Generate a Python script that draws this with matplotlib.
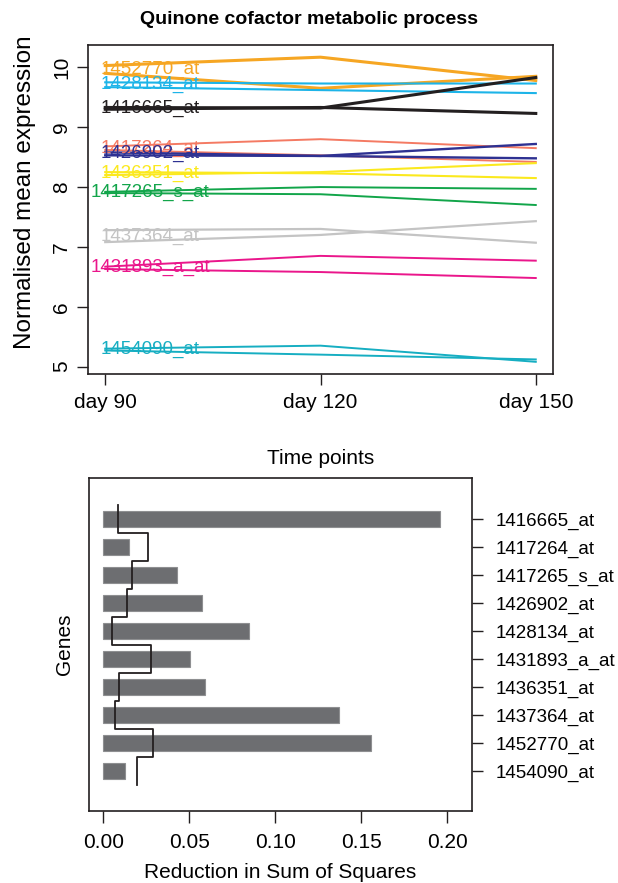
import numpy as np
import matplotlib
matplotlib.use("Agg")
import matplotlib.pyplot as plt

plt.rcParams["font.family"] = ["Liberation Sans", "DejaVu Sans"]

# top panel: two profiles per probe set over the three time points
time_points = ["day 90", "day 120", "day 150"]
probes = ["1452770_at", "1428134_at", "1416665_at", "1417264_at", "1426902_at",
          "1436351_at", "1417265_s_at", "1437364_at", "1431893_a_at", "1454090_at"]
colours = ["#f6a623", "#1db4e8", "#231f20", "#f47a63", "#2e3192",
           "#fbe91e", "#12a54a", "#c4c4c4", "#ea168b", "#16aec2"]
widths = [2.2, 1.5, 2.2, 1.4, 1.7, 1.5, 1.4, 1.6, 1.4, 1.4]
profile_a = [[10.03, 10.17, 9.78], [9.75, 9.73, 9.73], [9.33, 9.32, 9.83],
             [8.68, 8.80, 8.65], [8.58, 8.52, 8.72], [8.20, 8.25, 8.40],
             [7.92, 8.00, 7.97], [7.28, 7.30, 7.07], [6.67, 6.85, 6.77],
             [5.30, 5.35, 5.08]]
profile_b = [[9.90, 9.65, 9.85], [9.67, 9.62, 9.57], [9.30, 9.33, 9.23],
             [8.62, 8.53, 8.42], [8.53, 8.52, 8.48], [8.25, 8.23, 8.15],
             [7.90, 7.88, 7.70], [7.08, 7.20, 7.43], [6.63, 6.58, 6.48],
             [5.27, 5.20, 5.12]]

# bottom panel
genes = ["1416665_at", "1417264_at", "1417265_s_at", "1426902_at", "1428134_at",
         "1431893_a_at", "1436351_at", "1437364_at", "1452770_at", "1454090_at"]
reduction = [0.1957, 0.0151, 0.0427, 0.0576, 0.0849, 0.0502, 0.0593, 0.1369, 0.1556, 0.0126]
null_level = [0.0084, 0.0258, 0.0169, 0.0136, 0.0049, 0.0276, 0.0091, 0.0066, 0.0291, 0.0194]

fig = plt.figure(figsize=(6.18, 8.83), dpi=100)

# ---- top panel
ax = fig.add_axes([88/618, 1-374/883, 465/618, 329/883])
xs = np.arange(len(time_points))
for i in range(len(probes)):
    ax.plot(xs, profile_a[i], color=colours[i], lw=widths[i])
    ax.plot(xs, profile_b[i], color=colours[i], lw=widths[i])
    ax.text(0.21, (profile_a[i][0] + profile_b[i][0]) / 2, probes[i], color=colours[i],
            fontsize=13.5, ha="center", va="center")

allv = np.array(profile_a + profile_b)
lo, hi = allv.min(), allv.max()
pad = (hi - lo) * 0.04
ax.set_ylim(lo - pad, hi + pad)
ax.set_xlim(-0.08, 2.08)
ax.set_xticks(xs)
ax.set_xticklabels(time_points)
ax.set_yticks([5, 6, 7, 8, 9, 10])
ax.tick_params(axis="both", labelsize=15, length=8, width=1, color="#231f20")
ax.tick_params(axis="x", pad=6)
ax.tick_params(axis="y", pad=4)
for lab in ax.get_yticklabels():
    lab.set_rotation(90)
    lab.set_va("center")
for s in ax.spines.values():
    s.set_linewidth(1.2)
    s.set_color("#231f20")
ax.set_ylabel("Normalised mean expression", fontsize=17.5)
ax.yaxis.set_label_coords(-0.135, 0.553)
ax.yaxis.label.set_va("center")
ax.set_xlabel("Time points", fontsize=15)
ax.xaxis.set_label_coords(0.5, -0.258)
ax.xaxis.label.set_va("center")
fig.text(0.5, 1-20/883, "Quinone cofactor metabolic process", fontsize=14,
         fontweight="bold", ha="center", va="center")

# ---- bottom panel
bx = fig.add_axes([89/618, 1-811/883, 383/618, 333/883])
ypos = np.arange(len(genes))
bx.barh(ypos, reduction, height=0.55, color="#6d6e71", edgecolor="#8e8f91", lw=0.8)
sx, sy = [], []
for i in range(len(genes)):
    sx += [null_level[i], null_level[i]]
    sy += [ypos[i] - 0.5, ypos[i] + 0.5]
bx.plot(sx, sy, color="#231f20", lw=1.3)
bx.set_ylim(len(genes) - 1 + 1.43, -1.46)
bx.set_xlim(-0.0083, 0.2144)
bx.set_xticks([0, 0.05, 0.10, 0.15, 0.20])
bx.set_xticklabels(["0.00", "0.05", "0.10", "0.15", "0.20"])
bx.yaxis.tick_right()
bx.set_yticks(ypos)
bx.set_yticklabels(genes)
bx.tick_params(axis="x", labelsize=15, length=8.5, width=1, pad=7, color="#231f20")
bx.tick_params(axis="y", labelsize=13.5, length=8, width=1, pad=9, color="#231f20")
for s in bx.spines.values():
    s.set_linewidth(1.2)
    s.set_color("#231f20")
bx.set_xlabel("Reduction in Sum of Squares", fontsize=15)
bx.xaxis.set_label_coords(0.5, -0.186)
bx.xaxis.label.set_va("center")
bx.set_ylabel("Genes", fontsize=15)
bx.yaxis.set_label_position("left")
bx.yaxis.set_label_coords(-0.063, 0.5)
bx.yaxis.label.set_va("center")

fig.savefig("out.png", dpi=100)
